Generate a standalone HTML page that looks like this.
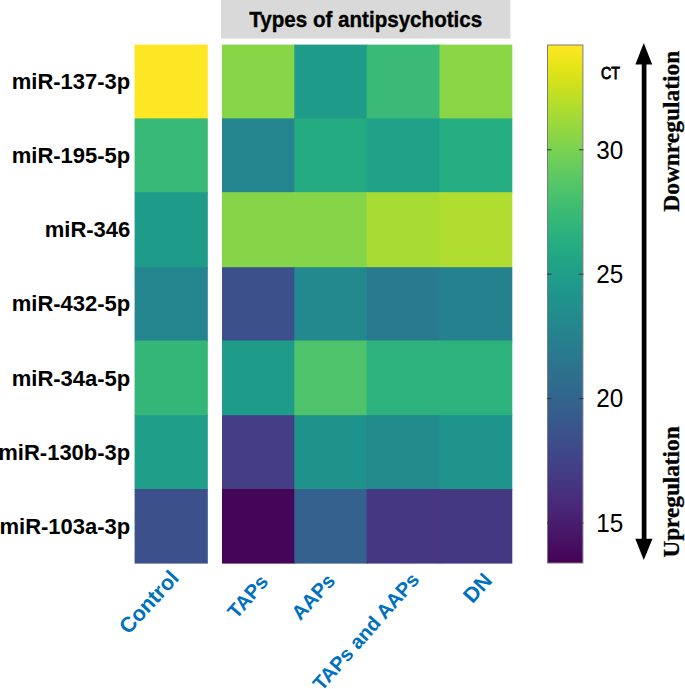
<!DOCTYPE html>
<html><head><meta charset="utf-8"><style>
html,body{margin:0;padding:0;background:#fff;}
svg{display:block;}
.rl{font-family:"Liberation Sans",sans-serif;font-weight:bold;font-size:22px;fill:#000;}
.xl{font-family:"Liberation Sans",sans-serif;font-weight:bold;fill:#0070C0;}
.tl{font-family:"Liberation Sans",sans-serif;font-size:25px;fill:#000;}
.tt{font-family:"Liberation Sans",sans-serif;font-weight:bold;font-size:21.6px;fill:#000;stroke:#000;stroke-width:0.35px;}
.ct{font-family:"Liberation Sans",sans-serif;font-weight:normal;font-size:17.3px;fill:#000;stroke:#000;stroke-width:0.9px;}
.vt{font-family:"Liberation Serif",serif;font-weight:bold;font-size:24px;fill:#000;stroke:#000;stroke-width:0.3px;}
.tk{stroke:#333;stroke-width:1;}
</style></head><body>
<svg width="685" height="689" viewBox="0 0 685 689">
<defs><linearGradient id="vg" x1="0" y1="1" x2="0" y2="0"><stop offset="0.0000" stop-color="#440154"/><stop offset="0.0156" stop-color="#46075a"/><stop offset="0.0312" stop-color="#470d60"/><stop offset="0.0469" stop-color="#471365"/><stop offset="0.0625" stop-color="#48186a"/><stop offset="0.0781" stop-color="#481d6f"/><stop offset="0.0938" stop-color="#482374"/><stop offset="0.1094" stop-color="#482878"/><stop offset="0.1250" stop-color="#472d7b"/><stop offset="0.1406" stop-color="#46327e"/><stop offset="0.1562" stop-color="#453781"/><stop offset="0.1719" stop-color="#443b84"/><stop offset="0.1875" stop-color="#424086"/><stop offset="0.2031" stop-color="#404588"/><stop offset="0.2188" stop-color="#3e4989"/><stop offset="0.2344" stop-color="#3d4e8a"/><stop offset="0.2500" stop-color="#3b528b"/><stop offset="0.2656" stop-color="#39568c"/><stop offset="0.2812" stop-color="#375b8d"/><stop offset="0.2969" stop-color="#355f8d"/><stop offset="0.3125" stop-color="#33638d"/><stop offset="0.3281" stop-color="#31678e"/><stop offset="0.3438" stop-color="#2f6b8e"/><stop offset="0.3594" stop-color="#2e6f8e"/><stop offset="0.3750" stop-color="#2c728e"/><stop offset="0.3906" stop-color="#2a768e"/><stop offset="0.4062" stop-color="#297a8e"/><stop offset="0.4219" stop-color="#277e8e"/><stop offset="0.4375" stop-color="#26828e"/><stop offset="0.4531" stop-color="#25858e"/><stop offset="0.4688" stop-color="#23898e"/><stop offset="0.4844" stop-color="#228d8d"/><stop offset="0.5000" stop-color="#21918c"/><stop offset="0.5156" stop-color="#1f948c"/><stop offset="0.5312" stop-color="#1f988b"/><stop offset="0.5469" stop-color="#1e9c89"/><stop offset="0.5625" stop-color="#1fa088"/><stop offset="0.5781" stop-color="#20a386"/><stop offset="0.5938" stop-color="#22a785"/><stop offset="0.6094" stop-color="#25ab82"/><stop offset="0.6250" stop-color="#28ae80"/><stop offset="0.6406" stop-color="#2db27d"/><stop offset="0.6562" stop-color="#32b67a"/><stop offset="0.6719" stop-color="#38b977"/><stop offset="0.6875" stop-color="#3fbc73"/><stop offset="0.7031" stop-color="#46c06f"/><stop offset="0.7188" stop-color="#4ec36b"/><stop offset="0.7344" stop-color="#56c667"/><stop offset="0.7500" stop-color="#5ec962"/><stop offset="0.7656" stop-color="#67cc5c"/><stop offset="0.7812" stop-color="#70cf57"/><stop offset="0.7969" stop-color="#7ad151"/><stop offset="0.8125" stop-color="#84d44b"/><stop offset="0.8281" stop-color="#8ed645"/><stop offset="0.8438" stop-color="#98d83e"/><stop offset="0.8594" stop-color="#a2da37"/><stop offset="0.8750" stop-color="#addc30"/><stop offset="0.8906" stop-color="#b8de29"/><stop offset="0.9062" stop-color="#c2df23"/><stop offset="0.9219" stop-color="#cde11d"/><stop offset="0.9375" stop-color="#d8e219"/><stop offset="0.9531" stop-color="#e2e418"/><stop offset="0.9688" stop-color="#ece51b"/><stop offset="0.9844" stop-color="#f6e620"/><stop offset="1.0000" stop-color="#fde725"/></linearGradient></defs>
<rect x="221" y="0" width="289.4" height="38.6" fill="#d9d9d9"/>
<text x="249.2" y="26.9" class="tt" textLength="233" lengthAdjust="spacingAndGlyphs">Types of antipsychotics</text>
<rect x="134.6" y="44.60" width="73.20" height="74.80" fill="#fde725"/><rect x="222.00" y="44.60" width="73.30" height="74.80" fill="#89d548"/><rect x="294.30" y="44.60" width="73.30" height="74.80" fill="#1e9c89"/><rect x="366.60" y="44.60" width="73.90" height="74.80" fill="#3aba76"/><rect x="439.50" y="44.60" width="72.80" height="74.80" fill="#8bd646"/><rect x="134.6" y="118.40" width="73.20" height="74.80" fill="#38b977"/><rect x="222.00" y="118.40" width="73.30" height="74.80" fill="#25858e"/><rect x="294.30" y="118.40" width="73.30" height="74.80" fill="#25ab82"/><rect x="366.60" y="118.40" width="73.90" height="74.80" fill="#1fa287"/><rect x="439.50" y="118.40" width="72.80" height="74.80" fill="#26ad81"/><rect x="134.6" y="192.20" width="73.20" height="76.00" fill="#1e9c89"/><rect x="222.00" y="192.20" width="73.30" height="76.00" fill="#86d549"/><rect x="294.30" y="192.20" width="73.30" height="76.00" fill="#86d549"/><rect x="366.60" y="192.20" width="73.90" height="76.00" fill="#a8db34"/><rect x="439.50" y="192.20" width="72.80" height="76.00" fill="#b0dd2f"/><rect x="134.6" y="267.20" width="73.20" height="74.30" fill="#25858e"/><rect x="222.00" y="267.20" width="73.30" height="74.30" fill="#3c508b"/><rect x="294.30" y="267.20" width="73.30" height="74.30" fill="#23898e"/><rect x="366.60" y="267.20" width="73.90" height="74.30" fill="#297a8e"/><rect x="439.50" y="267.20" width="72.80" height="74.30" fill="#26818e"/><rect x="134.6" y="340.50" width="73.20" height="75.70" fill="#34b679"/><rect x="222.00" y="340.50" width="73.30" height="75.70" fill="#1e9c89"/><rect x="294.30" y="340.50" width="73.30" height="75.70" fill="#4ec36b"/><rect x="366.60" y="340.50" width="73.90" height="75.70" fill="#2db27d"/><rect x="439.50" y="340.50" width="72.80" height="75.70" fill="#2db27d"/><rect x="134.6" y="415.20" width="73.20" height="74.80" fill="#1f9e89"/><rect x="222.00" y="415.20" width="73.30" height="74.80" fill="#433e85"/><rect x="294.30" y="415.20" width="73.30" height="74.80" fill="#20928c"/><rect x="366.60" y="415.20" width="73.90" height="74.80" fill="#228c8d"/><rect x="439.50" y="415.20" width="72.80" height="74.80" fill="#1f948c"/><rect x="134.6" y="489.00" width="73.20" height="74.60" fill="#3c508b"/><rect x="222.00" y="489.00" width="73.30" height="74.60" fill="#450559"/><rect x="294.30" y="489.00" width="73.30" height="74.60" fill="#34618d"/><rect x="366.60" y="489.00" width="73.90" height="74.60" fill="#453781"/><rect x="439.50" y="489.00" width="72.80" height="74.60" fill="#453882"/>
<rect x="547.5" y="45.0" width="35.39999999999998" height="518.0" fill="url(#vg)" stroke="#7a7a7a" stroke-width="1"/>
<line x1="547.0" y1="149.75" x2="551.5" y2="149.75" class="tk"/><line x1="578.9" y1="149.75" x2="583.4" y2="149.75" class="tk"/><text x="596.3" y="158.65" class="tl" textLength="27" lengthAdjust="spacingAndGlyphs">30</text><line x1="547.0" y1="274.17" x2="551.5" y2="274.17" class="tk"/><line x1="578.9" y1="274.17" x2="583.4" y2="274.17" class="tk"/><text x="596.3" y="283.07" class="tl" textLength="27" lengthAdjust="spacingAndGlyphs">25</text><line x1="547.0" y1="398.58" x2="551.5" y2="398.58" class="tk"/><line x1="578.9" y1="398.58" x2="583.4" y2="398.58" class="tk"/><text x="596.3" y="407.48" class="tl" textLength="27" lengthAdjust="spacingAndGlyphs">20</text><line x1="547.0" y1="523.00" x2="551.5" y2="523.00" class="tk"/><line x1="578.9" y1="523.00" x2="583.4" y2="523.00" class="tk"/><text x="596.3" y="531.90" class="tl" textLength="27" lengthAdjust="spacingAndGlyphs">15</text>
<text x="601" y="79.0" class="ct" textLength="19" lengthAdjust="spacingAndGlyphs">CT</text>
<text x="130.3" y="89.20" text-anchor="end" class="rl">miR-137-3p</text><text x="130.3" y="163.00" text-anchor="end" class="rl">miR-195-5p</text><text x="130.3" y="237.40" text-anchor="end" class="rl">miR-346</text><text x="130.3" y="310.95" text-anchor="end" class="rl">miR-432-5p</text><text x="130.3" y="385.55" text-anchor="end" class="rl">miR-34a-5p</text><text x="130.3" y="459.80" text-anchor="end" class="rl">miR-130b-3p</text><text x="130.3" y="534.00" text-anchor="end" class="rl">miR-103a-3p</text>
<text x="180.1" y="578.9" text-anchor="end" class="xl" style="font-size:21.5px" transform="rotate(-47.5 180.1 578.9)">Control</text><text x="269.2" y="582.3" text-anchor="end" class="xl" style="font-size:20px" transform="rotate(-49 269.2 582.3)">TAPs</text><text x="336.3" y="581.8" text-anchor="end" class="xl" style="font-size:20px" transform="rotate(-47.5 336.3 581.8)">AAPs</text><text x="420.4" y="580.3" text-anchor="end" class="xl" style="font-size:20px" transform="rotate(-48.5 420.4 580.3)">TAPs and AAPs</text><text x="493.2" y="581.3" text-anchor="end" class="xl" style="font-size:21.3px" transform="rotate(-48 493.2 581.3)">DN</text>
<line x1="644.1" y1="60" x2="644.1" y2="543" stroke="#000" stroke-width="4.7"/>
<polygon points="643.75,43 652.2,64.5 635.4,64.5" fill="#000"/>
<polygon points="643.75,560 652.5,538.7 635.3,538.7" fill="#000"/>
<text x="0" y="0" class="vt" transform="translate(678.8 211.7) rotate(-90) scale(0.976 1)">Downregulation</text>
<text x="0" y="0" class="vt" transform="translate(678.9 557.6) rotate(-90) scale(0.968 1)">Upregulation</text>
</svg>
</body></html>
